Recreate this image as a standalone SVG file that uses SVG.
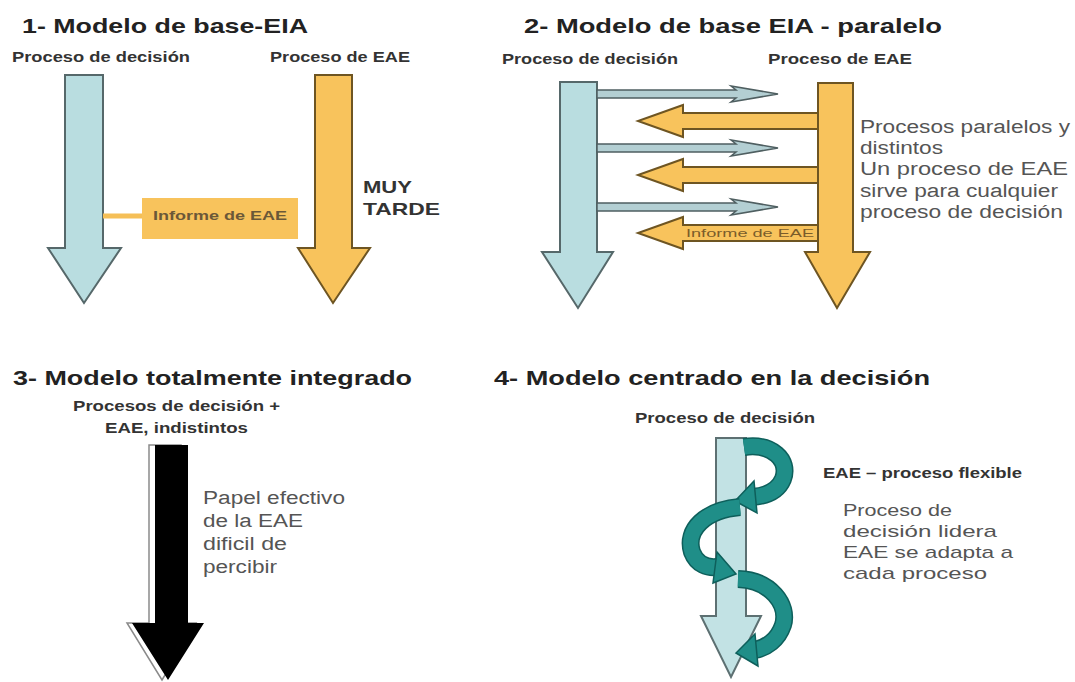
<svg xmlns="http://www.w3.org/2000/svg" width="1075" height="682" viewBox="0 0 1075 682">
<style>
text{font-family:"Liberation Sans",Arial,sans-serif}
.title{font-size:21px;font-weight:bold;fill:#222}
.lbl{font-size:15px;font-weight:bold;fill:#333}
.note{font-size:18px;fill:#555}
.blue{fill:#b9dde0;stroke:#56686a;stroke-width:2}
.orange{fill:#f8c35c;stroke:#6e5522;stroke-width:2}
.small{fill:#b3cfd3;stroke:#4f5f61;stroke-width:1.5}
.rib-o{fill:none;stroke:#0e5f5b;stroke-width:18}
.rib-i{fill:none;stroke:#1f8e88;stroke-width:15}
.head{fill:#1f8e88;stroke:#0e5f5b;stroke-width:1.5}
</style>
<rect width="1075" height="682" fill="#fff"/>

<!-- Panel 1 -->
<g id="panel1">
  <text class="title" x="22" y="33" textLength="286" lengthAdjust="spacingAndGlyphs">1- Modelo de base-EIA</text>
  <text class="lbl" x="12" y="62" textLength="178" lengthAdjust="spacingAndGlyphs">Proceso de decisión</text>
  <text class="lbl" x="270" y="62" textLength="140" lengthAdjust="spacingAndGlyphs">Proceso de EAE</text>
</g>
<g id="p1-decision">
  <path class="blue" d="M65,75 H103 V248 H121 L84,303 L48,248 H65 Z"/>
</g>
<g id="p1-eae">
  <path class="orange" d="M315,75 H352 V248 H370 L333,303 L298,248 H315 Z"/>
  <text x="363" y="193" font-size="17" font-weight="bold" fill="#333" textLength="49" lengthAdjust="spacingAndGlyphs">MUY</text>
  <text x="363" y="215" font-size="17" font-weight="bold" fill="#333" textLength="77" lengthAdjust="spacingAndGlyphs">TARDE</text>
</g>
<g id="p1-informe">
  <rect x="142" y="198" width="156" height="41" fill="#f8c35c"/>
  <text x="153" y="220" font-size="13" font-weight="bold" fill="#6b5838" textLength="134" lengthAdjust="spacingAndGlyphs">Informe de EAE</text>
</g>

<!-- Panel 2 -->
<g id="panel2">
  <text class="title" x="524" y="33" textLength="418" lengthAdjust="spacingAndGlyphs">2- Modelo de base EIA - paralelo</text>
  <text class="lbl" x="502" y="64" textLength="176" lengthAdjust="spacingAndGlyphs">Proceso de decisión</text>
  <text class="lbl" x="768" y="64" textLength="144" lengthAdjust="spacingAndGlyphs">Proceso de EAE</text>
</g>
<g id="p2-decision">
  <path class="blue" d="M560,82 H597 V252 H613 L578,308 L542,252 H560 Z"/>
</g>
<g id="p2-eae">
  <path class="orange" d="M818,83 H853 V252 H870 L837,308 L805,252 H818 Z"/>
</g>
<g id="p2-note">
  <text class="note" x="860" y="133" textLength="210" lengthAdjust="spacingAndGlyphs">Procesos paralelos y</text>
  <text class="note" x="860" y="154" textLength="83" lengthAdjust="spacingAndGlyphs">distintos</text>
  <text class="note" x="860" y="175" textLength="208" lengthAdjust="spacingAndGlyphs">Un proceso de EAE</text>
  <text class="note" x="860" y="197" textLength="198" lengthAdjust="spacingAndGlyphs">sirve para cualquier</text>
  <text class="note" x="860" y="218" textLength="203" lengthAdjust="spacingAndGlyphs">proceso de decisión</text>
</g>

<!-- Panel 3 -->
<g id="panel3">
  <text class="title" x="13" y="385" textLength="399" lengthAdjust="spacingAndGlyphs">3- Modelo totalmente integrado</text>
  <text class="lbl" x="73" y="411" textLength="207" lengthAdjust="spacingAndGlyphs">Procesos de decisión +</text>
  <text class="lbl" x="105" y="433" textLength="143" lengthAdjust="spacingAndGlyphs">EAE, indistintos</text>
</g>
<g id="p3-integrado">
  <path d="M149,445 H181 V623 H196 L162,680 L127,623 H149 Z" fill="#fff" stroke="#8a8a8a" stroke-width="1.5"/>
  <path d="M155,445 H188 V623 H204 L168,680 L132,623 H155 Z" fill="#000"/>
</g>
<g id="p3-note">
  <text class="note" x="203" y="504" textLength="142" lengthAdjust="spacingAndGlyphs">Papel efectivo</text>
  <text class="note" x="203" y="527" textLength="100" lengthAdjust="spacingAndGlyphs">de la EAE</text>
  <text class="note" x="203" y="550" textLength="84" lengthAdjust="spacingAndGlyphs">dificil de</text>
  <text class="note" x="203" y="573" textLength="74" lengthAdjust="spacingAndGlyphs">percibir</text>
</g>

<!-- Panel 4 -->
<g id="panel4">
  <text class="title" x="494" y="385" textLength="436" lengthAdjust="spacingAndGlyphs">4- Modelo centrado en la decisión</text>
  <text class="lbl" x="635" y="423" textLength="180" lengthAdjust="spacingAndGlyphs">Proceso de decisión</text>
</g>
<g id="p4-decision">
  <path d="M716,438 H746 V616 H761 L731,677 L701,616 H716 Z" fill="#c2e2e4" stroke="#5d7072" stroke-width="2"/>
</g>
<g id="p4-eae-spiral">
  <path class="rib-o" d="M744,447 C772,443 790,460 783,479 C778,491 766,496 752,497"/>
  <path class="rib-i" d="M744,447 C772,443 790,460 783,479 C778,491 766,496 752,497"/>
  <polygon class="head" points="754,481 757,513 735,501"/>
  <path class="rib-o" d="M740,507 C705,510 685,530 692,552 C697,565 708,568 717,567"/>
  <path class="rib-i" d="M740,507 C705,510 685,530 692,552 C697,565 708,568 717,567"/>
  <polygon class="head" points="717,552 713,583 736,574"/>
  <path class="rib-o" d="M738,579 C771,580 789,605 783,625 C778,640 766,648 755,650"/>
  <path class="rib-i" d="M738,579 C771,580 789,605 783,625 C778,640 766,648 755,650"/>
  <polygon class="head" points="755,634 758,666 736,653"/>
</g>
<g id="p4-note">
  <text x="823" y="478" font-size="14" font-weight="bold" fill="#333" textLength="199" lengthAdjust="spacingAndGlyphs">EAE – proceso flexible</text>
  <text x="843" y="516" font-size="17" fill="#555" textLength="109" lengthAdjust="spacingAndGlyphs">Proceso de</text>
  <text x="843" y="537" font-size="17" fill="#555" textLength="154" lengthAdjust="spacingAndGlyphs">decisión lidera</text>
  <text x="843" y="558" font-size="17" fill="#555" textLength="170" lengthAdjust="spacingAndGlyphs">EAE se adapta a</text>
  <text x="843" y="579" font-size="17" fill="#555" textLength="144" lengthAdjust="spacingAndGlyphs">cada proceso</text>
</g>

<!-- Connectors -->
<g id="connectors">
  <line x1="103" y1="216" x2="142" y2="216" stroke="#f5bf57" stroke-width="5"/>
  <path class="small" d="M597,90 H736 L731,86 L778,94 L731,102 L736,98 H597 Z"/>
  <path class="orange" d="M818,113 H683 V105 L638,121 L683,137 V129 H818 Z"/>
  <path class="small" d="M597,144 H736 L731,140 L778,148 L731,156 L736,152 H597 Z"/>
  <path class="orange" d="M818,167 H683 V159 L638,175 L683,191 V183 H818 Z"/>
  <path class="small" d="M597,203 H736 L731,199 L778,207 L731,215 L736,211 H597 Z"/>
  <path class="orange" d="M818,225 H683 V217 L638,233 L683,249 V241 H818 Z"/>
  <text x="686" y="237" font-size="11" fill="#7a5c2a" textLength="128" lengthAdjust="spacingAndGlyphs">Informe de EAE</text>
</g>
</svg>
